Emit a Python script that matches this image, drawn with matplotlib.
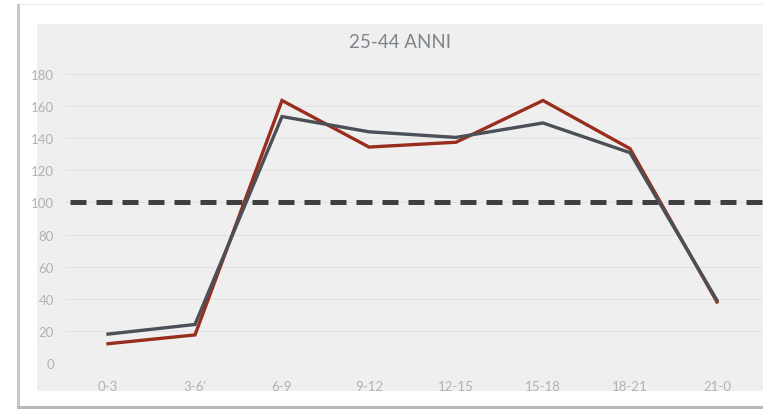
import matplotlib
matplotlib.use("Agg")
import matplotlib.pyplot as plt
from matplotlib.patches import Rectangle

categories = ["0-3", "3-6'", "6-9", "9-12", "12-15", "15-18", "18-21", "21-0"]
series_red = [12, 17.5, 163.5, 134.5, 137.5, 163.5, 133.5, 38]
series_gray = [18, 24, 153.5, 144, 140.5, 149.5, 131, 39]
reference_level = 100
y_ticks = [0, 20, 40, 60, 80, 100, 120, 140, 160, 180]
title = "25-44 ANNI"

W, H = 763, 410
fig = plt.figure(figsize=(W / 100, H / 100), dpi=100)
fig.patch.set_facecolor("white")

# outer frame with shadow
fig.patches.append(Rectangle((17 / W, 0 / H), 3 / W, 405 / H, transform=fig.transFigure,
                             facecolor="#c8c8c8", edgecolor="none", zorder=-2))
fig.patches.append(Rectangle((17 / W, 0 / H), (W - 17) / W, 3 / H, transform=fig.transFigure,
                             facecolor="#b8b8b8", edgecolor="none", zorder=-2))
fig.patches.append(Rectangle((20 / W, 404 / H), (W - 20) / W, 1.5 / H, transform=fig.transFigure,
                             facecolor="#ececec", edgecolor="none", zorder=-2))
# inner gray panel
fig.patches.append(Rectangle((37 / W, (H - 392) / H), (W - 37) / W, (392 - 25) / H,
                             transform=fig.transFigure, facecolor="#efefef",
                             edgecolor="none", zorder=-1))

left_px, right_px = 64.5, 760.5
top_px, bottom_px = 75, 364
ax = fig.add_axes([left_px / W, (H - bottom_px) / H, (right_px - left_px) / W,
                   (bottom_px - top_px) / H])
ax.set_zorder(2)
ax.set_facecolor("none")
ax.set_xlim(-0.5, len(categories) - 0.5)
ax.set_ylim(0, 180)
for s in ax.spines.values():
    s.set_visible(False)

ax.set_yticks(y_ticks)
ax.yaxis.grid(True, color="#e3e3e3", linewidth=0.8)
ax.set_axisbelow(True)
ax.tick_params(length=0)
ax.tick_params(axis="y", pad=7.5)
ax.tick_params(axis="x", pad=12)
x = list(range(len(categories)))
ax.set_xticks(x)
ax.set_xticklabels(categories)
for lab in ax.get_xticklabels() + ax.get_yticklabels():
    lab.set_family(["Lato", "DejaVu Sans"])
    lab.set_fontweight("normal")
    lab.set_fontsize(9.5)
    lab.set_color("#b2b2b2")

ax.axhline(reference_level, xmin=0.008, xmax=1.004, color="#3f3f3f", linewidth=3.6,
           dashes=(3.2, 2.0), clip_on=False, zorder=3, solid_capstyle="butt")
ax.plot(x, series_red, color="#9a2e1e", linewidth=2.4, zorder=4, clip_on=False,
        solid_joinstyle="miter")
ax.plot(x, series_gray, color="#4a5056", linewidth=2.4, zorder=5, clip_on=False,
        solid_joinstyle="miter")

fig.text(400 / W, (H - 42) / H, title, ha="center", va="center", fontsize=13.5,
         family=["Lato", "DejaVu Sans"], color="#7e858b", zorder=3)

fig.savefig("out.png", dpi=100)
